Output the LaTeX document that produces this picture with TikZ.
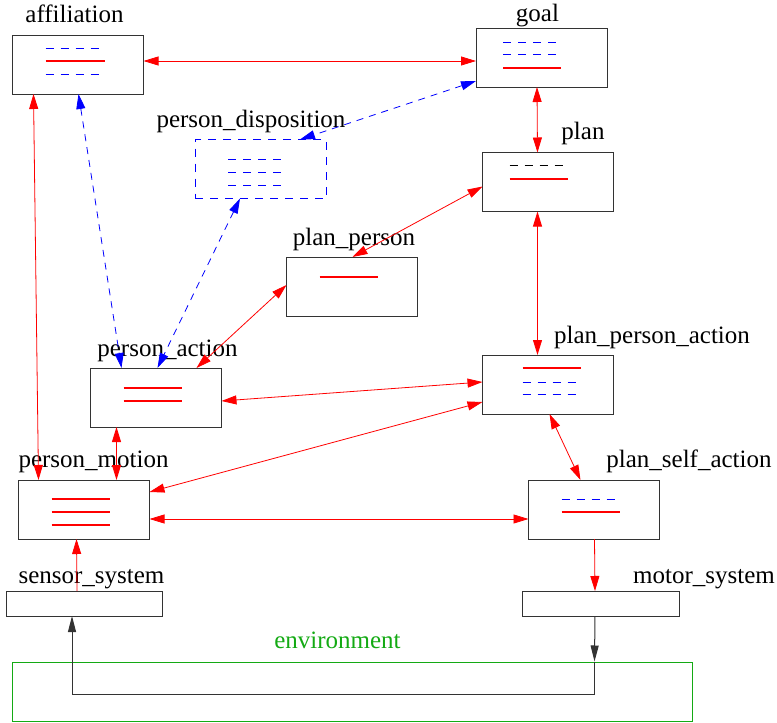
\documentclass[tikz,border=0pt]{standalone}
\usepackage{fontspec}
\setmainfont{Liberation Serif}
\usetikzlibrary{arrows.meta,calc}

\definecolor{envgreen}{RGB}{20,170,20}

\begin{document}
\begin{tikzpicture}[
    x=1pt,
    y=-1pt,
    box/.style={draw=black!80, line width=1pt, minimum width=131pt, minimum height=59pt, inner sep=0pt, outer sep=0pt},
    dbox/.style={box, draw=blue, dash pattern=on 8pt off 7pt},
    slim/.style={draw=black!80, line width=1pt, minimum width=157pt, minimum height=25pt, inner sep=0pt, outer sep=0pt},
    tag/.style={anchor=base, inner sep=0pt, font=\fontsize{25}{30}\selectfont},
    fullred/.style={draw=red, line width=1.1pt},
    dashblue/.style={draw=blue, line width=1pt, dash pattern=on 8pt off 7pt},
    dashblack/.style={draw=black, line width=1pt, dash pattern=on 8pt off 7pt},
    link/.style={red, line width=0.8pt, {Triangle[length=15pt,width=9pt]}-{Triangle[length=15pt,width=9pt]}},
    dlink/.style={blue, line width=0.8pt, dash pattern=on 7pt off 6pt, {Triangle[length=15pt,width=9pt]}-{Triangle[length=15pt,width=9pt]}},
    feed/.style={red, line width=0.8pt, -{Triangle[length=15pt,width=9pt]}},
    blk/.style={black!80, line width=1pt, -{Triangle[length=16pt,width=8pt]}}
]

\useasboundingbox (0,0) rectangle (777,723);


% Upper boxes
\node[box] (aff) at (78,64.5) {};
\node[tag] (aff-t) at (74.5,22) {affiliation};
\node[box] (goal) at (541.5,57.5) {};
\node[tag] (goal-t) at (537.5,21) {goal};
\node[dbox] (pdisp) at (260.5,169) {};
\node[tag] (pdisp-t) at (251,127) {person\_disposition};
\node[box] (plan) at (548,182) {};
\node[tag] (plan-t) at (583,139) {plan};
\node[box] (pperson) at (352,286.5) {};
\node[tag] (pperson-t) at (354,245) {plan\_person};


% Middle boxes
\node[box] (paction) at (156,397.5) {};
\node[tag] (paction-t) at (167.5,356) {person\_action};
\node[box] (ppaction) at (548,384.5) {};
\node[tag] (ppaction-t) at (652,343) {plan\_person\_action};
\node[box] (pmotion) at (84,509.5) {};
\node[tag] (pmotion-t) at (93.5,467) {person\_motion};
\node[box] (pself) at (594,509.5) {};
\node[tag] (pself-t) at (689,467) {plan\_self\_action};


% Lower boxes
\node[slim, minimum width=156pt] (sensor) at (84,603.5) {};
\node[tag] (sensor-t) at (91.5,583) {sensor\_system};
\node[slim] (motor) at (600.5,603.5) {};
\node[tag] (motor-t) at (704,583) {motor\_system};
\node[draw=envgreen, line width=1pt, minimum width=680pt, minimum height=59pt, inner sep=0pt] (env) at (352,691.5) {};
\node[tag, text=envgreen] (env-t) at (337.5,648) {environment};


% Box contents
\draw[dashblue] ($(aff.north west)+(33,13)$) -- ++(53,0);
\draw[fullred] ($(aff.north west)+(33,26)$) -- ++(59,0);
\draw[dashblue] ($(aff.north west)+(33,39)$) -- ++(53,0);

\draw[dashblue] ($(goal.north west)+(27,14)$) -- ++(53,0);
\draw[dashblue] ($(goal.north west)+(27,26)$) -- ++(53,0);
\draw[fullred] ($(goal.north west)+(27,40)$) -- ++(58,0);

\draw[dashblue] ($(pdisp.north west)+(33,20)$) -- ++(53,0);
\draw[dashblue] ($(pdisp.north west)+(33,33)$) -- ++(53,0);
\draw[dashblue] ($(pdisp.north west)+(33,46)$) -- ++(53,0);

\draw[dashblack] ($(plan.north west)+(27,13)$) -- ++(53,0);
\draw[fullred] ($(plan.north west)+(27,26.5)$) -- ++(58,0);

\draw[fullred] ($(pperson.north west)+(33,20)$) -- ++(58,0);

\draw[fullred] ($(paction.north west)+(33,20)$) -- ++(58,0);
\draw[fullred] ($(paction.north west)+(33,33)$) -- ++(58,0);

\draw[fullred] ($(ppaction.north west)+(40,13)$) -- ++(58,0);
\draw[dashblue] ($(ppaction.north west)+(40,27)$) -- ++(53,0);
\draw[dashblue] ($(ppaction.north west)+(40,39)$) -- ++(53,0);

\draw[fullred] ($(pmotion.north west)+(33,19)$) -- ++(58,0);
\draw[fullred] ($(pmotion.north west)+(33,32)$) -- ++(58,0);
\draw[fullred] ($(pmotion.north west)+(33,45)$) -- ++(58,0);

\draw[dashblue] ($(pself.north west)+(33,19)$) -- ++(53,0);
\draw[fullred] ($(pself.north west)+(33,32)$) -- ++(58,0);


% Connections
\draw[link] ($(aff.north east)+(0,26)$) -- ($(goal.north west)+(0,33)$);
\draw[dlink] ($(goal.north west)+(0,53)$) -- ($(pdisp.north west)+(105,0)$);
\draw[link] ($(goal.south west)+(61,0)$) -- ($(plan.north west)+(55,0)$);
\draw[link] ($(plan.north west)+(0,34)$) -- ($(pperson.north west)+(66,0)$);
\draw[link] ($(plan.south west)+(55,0)$) -- ($(ppaction.north west)+(55,0)$);
\draw[link] ($(pperson.north west)+(0,28)$) -- ($(paction.north west)+(106,0)$);

\draw[link] ($(aff.south west)+(21,0)$) -- ($(pmotion.north west)+(20,0)$);
\draw[dlink] ($(aff.south west)+(66,0)$) -- ($(paction.north west)+(31,0)$);
\draw[dlink] ($(pdisp.south west)+(45,0)$) -- ($(paction.north west)+(67,0)$);

\draw[link] ($(paction.north east)+(0,33)$) -- ($(ppaction.north west)+(0,27)$);
\draw[link] ($(pmotion.north east)+(0,12)$) -- ($(ppaction.north west)+(0,47)$);
\draw[link] ($(paction.south west)+(26,0)$) -- ($(pmotion.north west)+(98,0)$);
\draw[link] ($(pmotion.north east)+(0,39)$) -- ($(pself.north west)+(0,39)$);
\draw[link] ($(ppaction.south west)+(67,0)$) -- ($(pself.north west)+(52,0)$);

\draw[feed] ($(sensor.north west)+(71,0)$) -- ($(pmotion.south west)+(58,0)$);
\draw[feed] ($(pself.south west)+(66,0)$) -- ($(motor.north west)+(73,0)$);


% Loop through the environment
\coordinate (turn) at ($(env.north west)+(583,0)$);
\coordinate (bend) at ($(env.north west)+(583,33)$);
\draw[blk] ($(motor.south west)+(73,0)$) -- (turn);
\draw[blk] (turn) -- (bend) -| ($(sensor.south west)+(66,0)$);


\end{tikzpicture}
\end{document}
